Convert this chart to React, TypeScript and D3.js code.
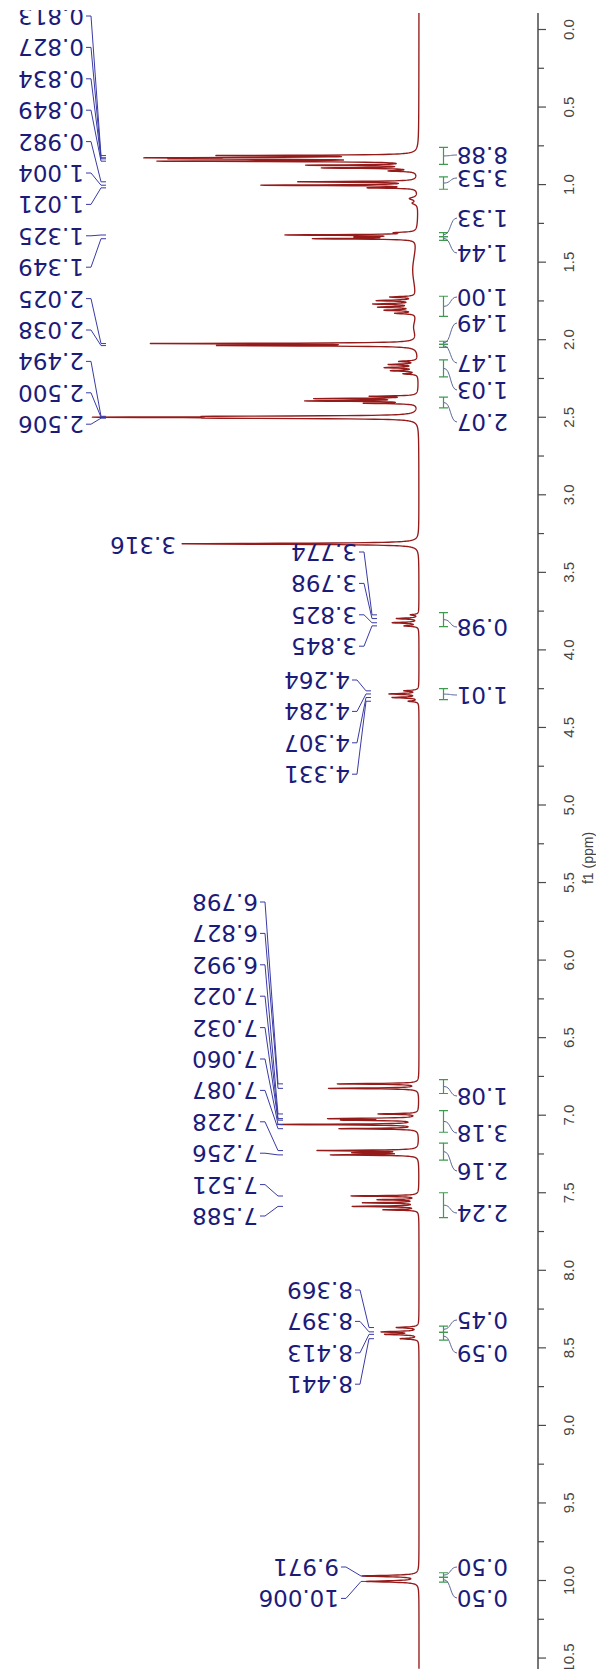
import React from 'react'
import * as d3 from 'd3'

const WIDTH = 596
const HEIGHT = 1669

// 1H NMR peak list: shift (ppm), height, half width (ppm)
const peakShifts = [
  0.813, 0.827, 0.834, 0.849, 0.875, 0.893, 0.912, 0.982, 1.004, 1.021, 1.09, 1.12,
  1.31, 1.325, 1.338, 1.349, 1.55, 1.725, 1.748, 1.77, 1.79, 1.81, 1.83, 1.92,
  2.025, 2.038, 2.14, 2.16, 2.18, 2.2, 2.22, 2.365, 2.38, 2.395, 2.41,
  2.494, 2.5, 2.506, 3.316, 3.774, 3.798, 3.825, 3.845, 4.264, 4.284, 4.307, 4.331,
  6.798, 6.827, 6.992, 7.022, 7.032, 7.06, 7.087, 7.228, 7.242, 7.256,
  7.521, 7.545, 7.565, 7.588, 7.61, 8.369, 8.397, 8.413, 8.441, 9.971, 10.006,
]
const peakHeights = [
  190, 235, 200, 250, 106, 92, 26, 119, 156, 46, 8, 5,
  18, 129, 50, 100, 6, 25, 38, 41, 36, 30, 20, 4,
  262, 190, 18, 28, 32, 26, 14, 45, 100, 109, 50,
  150, 270, 150, 239, 8, 22, 26, 14, 14, 29, 26, 10,
  82, 91, 40, 86, 70, 141, 79, 100, 60, 86,
  68, 40, 55, 66, 35, 22, 36, 32, 18, 56, 52,
]
const peakHalfWidths = [
  0.003, 0.003, 0.003, 0.003, 0.003, 0.003, 0.004, 0.003, 0.003, 0.003, 0.01, 0.01,
  0.004, 0.003, 0.003, 0.003, 0.15, 0.004, 0.004, 0.004, 0.004, 0.004, 0.004, 0.06,
  0.003, 0.003, 0.004, 0.004, 0.004, 0.004, 0.004, 0.003, 0.003, 0.003, 0.003,
  0.003, 0.003, 0.003, 0.004, 0.004, 0.004, 0.004, 0.004, 0.004, 0.004, 0.004, 0.004,
  0.003, 0.003, 0.003, 0.003, 0.003, 0.003, 0.003, 0.003, 0.003, 0.003,
  0.003, 0.003, 0.003, 0.003, 0.003, 0.004, 0.004, 0.004, 0.004, 0.005, 0.005,
]

// peak picking labels, one list per stack
const labelsAliphatic = ['0.813', '0.827', '0.834', '0.849', '0.982', '1.004', '1.021', '1.325', '1.349', '2.025', '2.038', '2.494', '2.500', '2.506']
const labelsWater = ['3.316']
const labelsMethine = ['3.774', '3.798', '3.825', '3.845']
const labelsOxy = ['4.264', '4.284', '4.307', '4.331']
const labelsAromatic = ['6.798', '6.827', '6.992', '7.022', '7.032', '7.060', '7.087', '7.228', '7.256', '7.521', '7.588']
const labelsDownfield = ['8.369', '8.397', '8.413', '8.441']
const labelsNH = ['9.971', '10.006']

// integrals
const integralValues = ['8.88', '3.53', '1.33', '1.44', '1.00', '1.49', '1.47', '1.03', '2.07', '0.98', '1.01', '1.08', '3.18', '2.16', '2.24', '0.45', '0.59', '0.50', '0.50']
const integralFrom = [0.76, 0.95, 1.31, 1.335, 1.72, 2.01, 2.03, 2.13, 2.37, 3.76, 4.25, 6.77, 6.97, 7.18, 7.5, 8.36, 8.4, 9.95, 9.98]
const integralTo = [0.87, 1.03, 1.335, 1.36, 1.85, 2.03, 2.05, 2.24, 2.44, 3.85, 4.32, 6.86, 7.11, 7.29, 7.66, 8.4, 8.45, 9.98, 10.01]

const axisLabels = [0, 0.5, 1, 1.5, 2, 2.5, 3, 3.5, 4, 4.5, 5, 5.5, 6, 6.5, 7, 7.5, 8, 8.5, 9, 9.5, 10, 10.5]

// layout
const y = d3.scaleLinear().domain([0, 10]).range([29.5, 1580.5])
const x = d3.scaleLinear().domain([0, 330]).range([419, 89])
const AXIS_X = 538
const TOP = 13
const LABEL_STEP = 31.4
const labelFont = 'DejaVu Sans'
const navy = '#1b1b7a'
const leaderBlue = '#3a3aa6'
const green = '#3f9a50'
const red = '#951b1b'
const axisGrey = '#4a4a4a'

const stacks = [
  { labels: labelsAliphatic, top: 16, textX: 84, bendX: 101 },
  { labels: labelsWater, top: 545, textX: 176, bendX: 0 },
  { labels: labelsMethine, top: 552, textX: 357, bendX: 372 },
  { labels: labelsOxy, top: 680, textX: 350, bendX: 366 },
  { labels: labelsAromatic, top: 902, textX: 258, bendX: 278 },
  { labels: labelsDownfield, top: 1290, textX: 353, bendX: 369 },
  { labels: labelsNH, top: 1567, textX: 339, bendX: 361 },
]
const integralLabelY = [155, 178, 218, 253, 297, 323, 363, 390, 422, 627, 695, 1096, 1133, 1171, 1213, 1320, 1353, 1567, 1598]

function intensity(ppm: number) {
  let s = 0
  for (let i = 0; i < peakShifts.length; i++) {
    const w = peakHalfWidths[i]
    const d = ppm - peakShifts[i]
    s += peakHeights[i] * (w * w) / (d * d + w * w)
  }
  return s
}

export default function App() {
  const ppmTop = y.invert(TOP)
  const ppmBottom = y.invert(HEIGHT)
  const pts = d3.range(ppmTop, ppmBottom, 0.001).map(p => [p, intensity(p)] as [number, number])
  const trace = d3.line<[number, number]>().x(d => x(d[1])).y(d => y(d[0]))(pts) || ''

  const ticks = d3.range(0, 10.76, 0.25).filter(t => y(t) >= TOP && y(t) <= HEIGHT)

  return (
    <svg width={WIDTH} height={HEIGHT} style={{ position: 'absolute', left: 0, top: 0, display: 'block', background: '#fff' }}>
      <rect width={WIDTH} height={HEIGHT} fill="#fff" />

      {/* spectrum */}
      <path d={trace} fill="none" stroke={red} strokeWidth={1.35} strokeLinejoin="round" />

      {/* peak labels and leaders */}
      {stacks.map((st, gi) => (
        <g key={gi}>
          {st.labels.map((lab, i) => {
            const yl = st.top + i * LABEL_STEP
            const yp = y(parseFloat(lab))
            return (
              <g key={lab + i}>
                {st.bendX > 0 && (
                  <path
                    d={`M${st.textX + 2},${yl} H${st.textX + 7} L${st.bendX},${yp} H${st.bendX + 5}`}
                    fill="none" stroke={leaderBlue} strokeWidth={1}
                  />
                )}
                <text
                  transform={`translate(${st.textX},${yl}) rotate(180)`}
                  textAnchor="start" dominantBaseline="central"
                  fontFamily={labelFont} fontSize={23} fill={navy}
                >{lab}</text>
              </g>
            )
          })}
        </g>
      ))}

      {/* integrals */}
      {integralValues.map((v, i) => {
        const y0 = y(integralFrom[i])
        const y1 = y(integralTo[i])
        const ym = (y0 + y1) / 2
        const yl = integralLabelY[i]
        return (
          <g key={i}>
            <path d={`M439,${y0} H448 M443.5,${y0} V${y1} M439,${y1} H448`} fill="none" stroke={green} strokeWidth={1.2} />
            <path d={`M444,${ym} C451,${ym} 450,${yl} 457,${yl}`} fill="none" stroke="#4a5a8a" strokeWidth={0.9} />
            <text
              transform={`translate(508,${yl}) rotate(180)`}
              textAnchor="start" dominantBaseline="central"
              fontFamily={labelFont} fontSize={23} fill={navy}
            >{v}</text>
          </g>
        )
      })}

      {/* ppm axis */}
      <line x1={AXIS_X} x2={AXIS_X} y1={TOP} y2={HEIGHT} stroke={axisGrey} strokeWidth={1.5} />
      {ticks.map(t => (
        <line key={t} x1={AXIS_X} x2={AXIS_X + (t % 0.5 === 0 ? 8 : 6)} y1={y(t)} y2={y(t)} stroke={axisGrey} strokeWidth={1.2} />
      ))}
      {axisLabels.map(t => (
        <text
          key={t}
          transform={`translate(568,${y(t)}) rotate(-90)`}
          textAnchor="middle" dominantBaseline="central"
          fontFamily="Liberation Sans" fontSize={15} fill="#444"
        >{d3.format('.1f')(t)}</text>
      ))}
      <text
        transform={`translate(588,858) rotate(-90)`}
        textAnchor="middle" dominantBaseline="central"
        fontFamily="Liberation Sans" fontSize={14} fill="#444"
      >f1 (ppm)</text>

      {/* cropped top edge */}
      <rect x={0} y={0} width={WIDTH} height={10} fill="#fff" />
    </svg>
  )
}
